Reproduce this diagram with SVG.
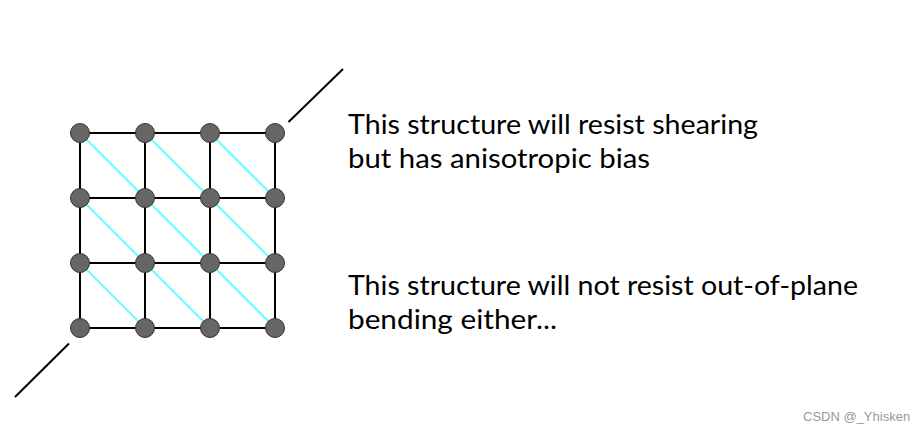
<svg xmlns="http://www.w3.org/2000/svg" width="924" height="433" viewBox="0 0 924 433">
<style>
.grid{stroke:#000;stroke-width:2;fill:none}
.diag{stroke:#6ff;stroke-width:2;fill:none}
.ext{stroke:#000;stroke-width:2;fill:none}
.node{fill:#666;stroke:#333;stroke-width:1}
.t{font-family:Lato,"Liberation Sans",sans-serif;font-size:27px;fill:#000}
.wm{font-family:"Liberation Sans",Arial,sans-serif;font-size:13px;fill:#999}
</style>
<rect width="924" height="433" fill="#fff"/>
<g id="connectors">
<g class="diag">
<line x1="80" y1="133" x2="145" y2="198"/>
<line x1="145" y1="133" x2="210" y2="198"/>
<line x1="210" y1="133" x2="275" y2="198"/>
<line x1="80" y1="198" x2="145" y2="263"/>
<line x1="145" y1="198" x2="210" y2="263"/>
<line x1="210" y1="198" x2="275" y2="263"/>
<line x1="80" y1="263" x2="145" y2="328"/>
<line x1="145" y1="263" x2="210" y2="328"/>
<line x1="210" y1="263" x2="275" y2="328"/>
</g>
<g class="grid">
<line x1="80" y1="133" x2="275" y2="133"/>
<line x1="80" y1="198" x2="275" y2="198"/>
<line x1="80" y1="263" x2="275" y2="263"/>
<line x1="80" y1="328" x2="275" y2="328"/>
<line x1="80" y1="133" x2="80" y2="328"/>
<line x1="145" y1="133" x2="145" y2="328"/>
<line x1="210" y1="133" x2="210" y2="328"/>
<line x1="275" y1="133" x2="275" y2="328"/>
</g>
<line class="ext" x1="288.5" y1="122" x2="343" y2="69"/>
<line class="ext" x1="69" y1="343.5" x2="15" y2="397"/>
</g>
<g id="nodes">
<g id="n00"><circle class="node" cx="80" cy="133" r="9.5"/></g>
<g id="n01"><circle class="node" cx="145" cy="133" r="9.5"/></g>
<g id="n02"><circle class="node" cx="210" cy="133" r="9.5"/></g>
<g id="n03"><circle class="node" cx="275" cy="133" r="9.5"/></g>
<g id="n10"><circle class="node" cx="80" cy="198" r="9.5"/></g>
<g id="n11"><circle class="node" cx="145" cy="198" r="9.5"/></g>
<g id="n12"><circle class="node" cx="210" cy="198" r="9.5"/></g>
<g id="n13"><circle class="node" cx="275" cy="198" r="9.5"/></g>
<g id="n20"><circle class="node" cx="80" cy="263" r="9.5"/></g>
<g id="n21"><circle class="node" cx="145" cy="263" r="9.5"/></g>
<g id="n22"><circle class="node" cx="210" cy="263" r="9.5"/></g>
<g id="n23"><circle class="node" cx="275" cy="263" r="9.5"/></g>
<g id="n30"><circle class="node" cx="80" cy="328" r="9.5"/></g>
<g id="n31"><circle class="node" cx="145" cy="328" r="9.5"/></g>
<g id="n32"><circle class="node" cx="210" cy="328" r="9.5"/></g>
<g id="n33"><circle class="node" cx="275" cy="328" r="9.5"/></g>
</g>
<g id="labels">
<text class="t" x="348" y="134" textLength="410" lengthAdjust="spacingAndGlyphs">This structure will resist shearing</text>
<text class="t" x="348" y="168" textLength="302" lengthAdjust="spacingAndGlyphs">but has anisotropic bias</text>
<text class="t" x="348" y="295" textLength="510" lengthAdjust="spacingAndGlyphs">This structure will not resist out-of-plane</text>
<text class="t" x="348" y="329" textLength="209" lengthAdjust="spacingAndGlyphs">bending either...</text>
<text class="wm" x="803" y="421">CSDN @_Yhisken</text>
</g>
</svg>
